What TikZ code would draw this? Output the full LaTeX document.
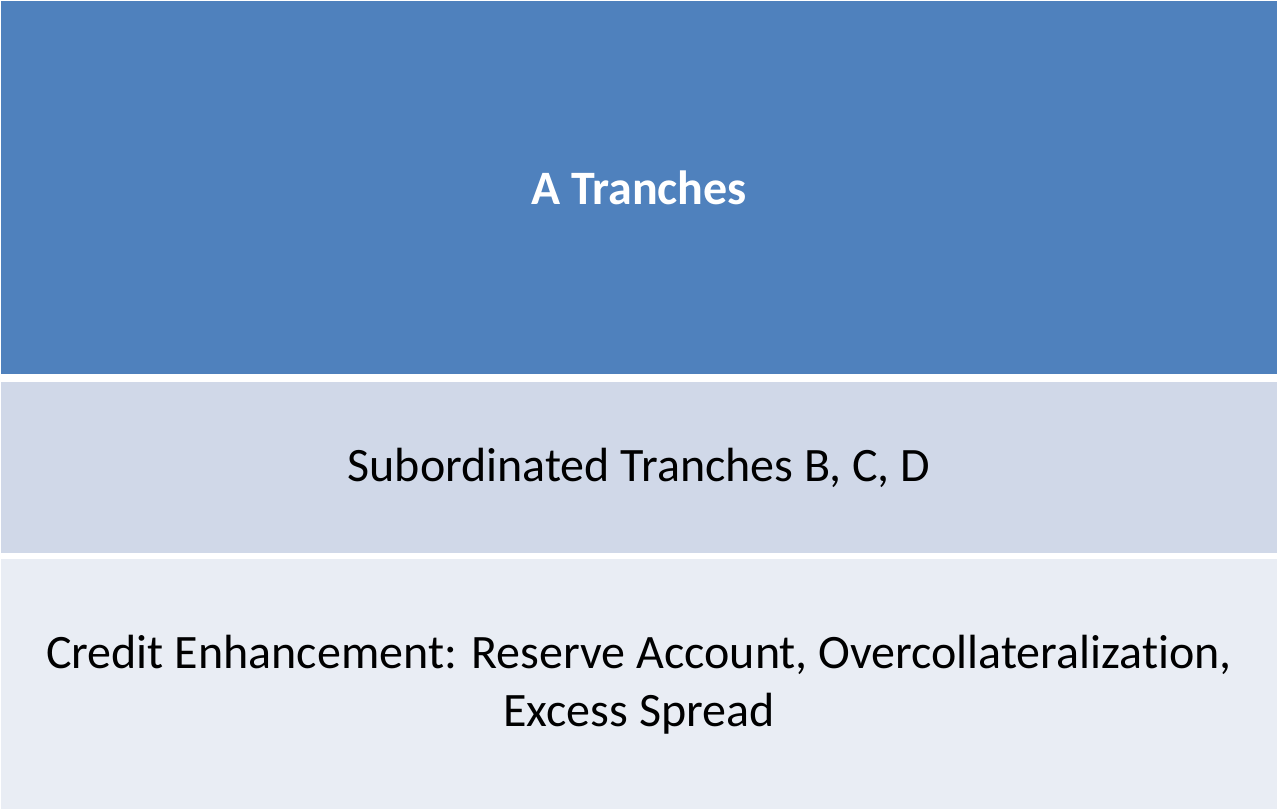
\documentclass[tikz,border=0pt]{standalone}
\usepackage{fontspec}
\setmainfont{Carlito}[Ligatures=NoCommon]
\usepackage{tikz}
\usetikzlibrary{positioning}

\definecolor{tierA}{HTML}{4F81BD}
\definecolor{tierB}{HTML}{D0D8E8}
\definecolor{tierC}{HTML}{E9EDF4}

\begin{document}
\begin{tikzpicture}[
  x=1pt,y=1pt,
  node distance=8pt,
  tier/.style={draw=none,inner sep=0pt,minimum width=1276pt,align=center,font=\fontsize{48}{58}\selectfont},
  lead/.style={tier,fill=tierA,text=white,font=\fontsize{48}{58}\selectfont\bfseries}]
  \useasboundingbox[fill=white] (0,0) rectangle (1278,809);
  \node[lead,minimum height=373pt] (atr) at (639,621.5) {A Tranches};
  \node[tier,fill=tierB,minimum height=171pt,below=of atr] (sub) {Subordinated Tranches B, C, D};
  \node[tier,fill=tierC,minimum height=251pt,below=5pt of sub] (enh) {Credit Enhancement: Reserve Account, Overcollateralization,\\Excess Spread};
\end{tikzpicture}
\end{document}
